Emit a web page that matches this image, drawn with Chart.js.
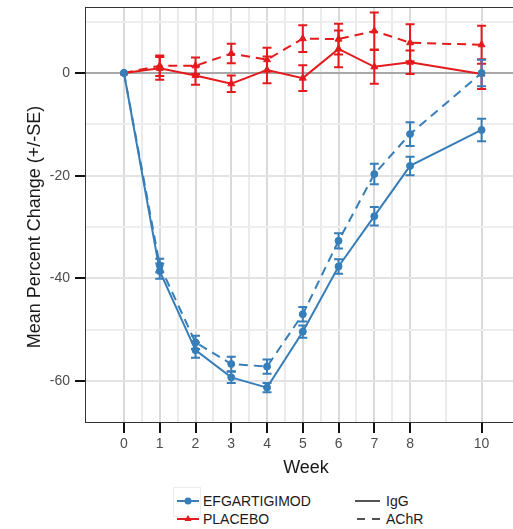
<!DOCTYPE html>
<html>
<head>
<meta charset="utf-8">
<script src="https://cdn.jsdelivr.net/npm/chart.js@4.4.1/dist/chart.umd.min.js"></script>
<style>
  html, body { margin: 0; padding: 0; background: #fff; overflow: hidden; }
  #wrap { position: relative; width: 513px; height: 529px; overflow: hidden; }
  #chart { position: absolute; left: 0; top: 0; }
  .key { position: absolute; }
  .lbl { position: absolute; font: 14px "Liberation Sans", Arial, sans-serif; color: #1a1a1a; line-height: 16px; white-space: nowrap; }
</style>
</head>
<body>
<div id="wrap">
  <canvas id="chart" width="540" height="480"></canvas>

  <div class="key" style="left:173px;top:487px;width:28px;height:30px;border:1px solid #ececec;box-sizing:border-box;"></div>
  <svg class="key" style="left:175px;top:493px" width="26" height="16">
    <line x1="2" y1="8" x2="24" y2="8" stroke="#377eb8" stroke-width="2"/>
    <circle cx="13" cy="8" r="3.5" fill="#377eb8"/>
  </svg>
  <span class="lbl" style="left:203px;top:493px">EFGARTIGIMOD</span>
  <svg class="key" style="left:175px;top:511px" width="26" height="16">
    <line x1="2" y1="8" x2="24" y2="8" stroke="#e41a1c" stroke-width="2"/>
    <polygon points="13,4 16.5,10 9.5,10" fill="#e41a1c"/>
  </svg>
  <span class="lbl" style="left:203px;top:511px">PLACEBO</span>

  <svg class="key" style="left:353px;top:493px" width="30" height="16">
    <line x1="2" y1="8" x2="27" y2="8" stroke="#1a1a1a" stroke-width="1.5"/>
  </svg>
  <span class="lbl" style="left:386px;top:493px">IgG</span>
  <svg class="key" style="left:353px;top:511px" width="30" height="16">
    <line x1="4" y1="8" x2="27" y2="8" stroke="#1a1a1a" stroke-width="1.5" stroke-dasharray="8,7"/>
  </svg>
  <span class="lbl" style="left:386px;top:511px">AChR</span>
</div>

<script>
// weeks on the x axis
const weeks = [0, 1, 2, 3, 4, 5, 6, 7, 8, 10];
const weekLabels = [0, 1, 2, 3, 4, 5, 6, 7, 8, 10];
const yLabels = [0, -20, -40, -60];

// efgartigimod
const efgIgg = [0, -38.6, -54.0, -59.3, -61.3, -50.4, -37.7, -27.9, -18.1, -11.1];
const efgIggSe = [0, 1.5, 1.5, 1.1, 0.9, 1.2, 1.4, 1.8, 1.8, 2.2];
const efgAchr = [0, -37.5, -52.5, -56.7, -57.2, -47.0, -32.7, -19.7, -11.9, 0.0];
const efgAchrSe = [0, 1.3, 1.3, 1.4, 1.4, 1.4, 1.5, 2.0, 2.3, 2.6];

// placebo
const plcIgg = [0, 0.9, -0.5, -2.1, 0.6, -1.0, 4.7, 1.2, 2.1, -0.2];
const plcIggSe = [0, 2.2, 1.8, 1.6, 2.6, 2.5, 3.6, 3.3, 2.3, 2.9];
const plcAchr = [0, 1.4, 1.4, 3.8, 2.6, 6.7, 6.6, 8.2, 5.9, 5.5];
const plcAchrSe = [0, 2.0, 1.6, 1.9, 2.3, 2.6, 3.0, 3.6, 3.6, 3.7];

const BLUE = '#377eb8';
const RED = '#e41a1c';
const FONT = '"Liberation Sans", Arial, sans-serif';

Chart.defaults.font.family = FONT;

function pts(vals) {
  return weeks.map((w, i) => ({ x: w, y: vals[i] }));
}

// minor breaks sit halfway between the labelled weeks
const xGrid = [];
weekLabels.forEach((w, i) => {
  xGrid.push(w);
  if (i < weekLabels.length - 1) xGrid.push((w + weekLabels[i + 1]) / 2);
});
const yGrid = [-60, -50, -40, -30, -20, -10, 0, 10];

function series(label, vals, se, color, dashed, style) {
  return {
    label: label,
    data: pts(vals),
    se: se,
    borderColor: color,
    backgroundColor: color,
    borderWidth: 2,
    borderDash: dashed ? [9, 6] : [],
    pointStyle: style,
    pointRadius: style === 'triangle' ? 4 : 3.5,
    pointBorderWidth: 1,
    tension: 0
  };
}

// error bars (+/- SE)
const errorBars = {
  id: 'errorBars',
  afterDatasetDraw(chart, args) {
    const ds = chart.data.datasets[args.index];
    if (!ds.se) return;
    const { ctx, chartArea } = chart;
    const x = chart.scales.x, y = chart.scales.y;
    ctx.save();
    ctx.beginPath();
    ctx.rect(chartArea.left, chartArea.top, chartArea.width, chartArea.height);
    ctx.clip();
    ctx.strokeStyle = ds.borderColor;
    ctx.lineWidth = 2;
    ctx.setLineDash([]);
    ds.data.forEach((p, i) => {
      const s = ds.se[i];
      if (!s) return;
      const px = x.getPixelForValue(p.x);
      const top = y.getPixelForValue(p.y + s);
      const bot = y.getPixelForValue(p.y - s);
      ctx.beginPath();
      ctx.moveTo(px, top); ctx.lineTo(px, bot);
      ctx.moveTo(px - 4.5, top); ctx.lineTo(px + 4.5, top);
      ctx.moveTo(px - 4.5, bot); ctx.lineTo(px + 4.5, bot);
      ctx.stroke();
    });
    ctx.restore();
  }
};

// top edge of the panel and the y title
const frame = {
  id: 'frame',
  afterDraw(chart) {
    const { ctx, chartArea } = chart;
    ctx.save();
    ctx.strokeStyle = '#333';
    ctx.lineWidth = 1;
    ctx.beginPath();
    ctx.moveTo(chartArea.left, chartArea.top + 0.5);
    ctx.lineTo(chartArea.right, chartArea.top + 0.5);
    ctx.stroke();
    ctx.translate(35, 227);
    ctx.rotate(-Math.PI / 2);
    ctx.font = '18px ' + FONT;
    ctx.fillStyle = '#1a1a1a';
    ctx.textAlign = 'center';
    ctx.textBaseline = 'middle';
    ctx.fillText('Mean Percent Change (+/-SE)', 0, 0);
    ctx.restore();
  }
};

const ctx = document.getElementById('chart').getContext('2d');

const chart = new Chart(ctx, {
  type: 'line',
  data: {
    datasets: [
      series('EFGARTIGIMOD IgG', efgIgg, efgIggSe, BLUE, false, 'circle'),
      series('EFGARTIGIMOD AChR', efgAchr, efgAchrSe, BLUE, true, 'circle'),
      series('PLACEBO IgG', plcIgg, plcIggSe, RED, false, 'triangle'),
      series('PLACEBO AChR', plcAchr, plcAchrSe, RED, true, 'triangle')
    ]
  },
  options: {
    responsive: false,
    animation: false,
    layout: { padding: { left: 0, top: 7, right: 13, bottom: 0 } },
    plugins: {
      legend: { display: false },
      tooltip: { enabled: false }
    },
    scales: {
      x: {
        type: 'linear',
        min: -1.09,
        max: 11.27,
        afterBuildTicks: (scale) => { scale.ticks = xGrid.map(v => ({ value: v })); },
        afterFit: (scale) => { scale.height = 58; },
        ticks: {
          autoSkip: false,
          maxRotation: 0,
          padding: 3,
          color: '#4d4d4d',
          font: { size: 14 },
          callback: (v) => weekLabels.includes(v) ? String(v) : ''
        },
        grid: {
          color: (c) => weekLabels.includes(c.tick.value) ? '#dadada' : '#ebebeb',
          lineWidth: 2,
          tickLength: 11,
          tickWidth: 2,
          tickColor: (c) => weekLabels.includes(c.tick.value) ? '#111' : 'rgba(0,0,0,0)'
        },
        border: { color: '#333', width: 1 },
        title: {
          display: true,
          text: 'Week',
          color: '#1a1a1a',
          font: { size: 18 },
          padding: { top: 4, bottom: 1 }
        }
      },
      y: {
        min: -68,
        max: 12.86,
        afterBuildTicks: (scale) => { scale.ticks = yGrid.map(v => ({ value: v })); },
        afterFit: (scale) => {
          scale.width = 85;
          scale.paddingTop = 0;
          scale.paddingBottom = 0;
        },
        ticks: {
          autoSkip: false,
          padding: 5,
          color: '#4d4d4d',
          font: { size: 14, lineHeight: 1 },
          callback: (v) => yLabels.includes(v) ? String(v) : ''
        },
        grid: {
          color: (c) => c.tick.value === 0 ? '#a8a8a8' : (yLabels.includes(c.tick.value) ? '#e3e3e3' : '#eeeeee'),
          lineWidth: 2,
          tickLength: 10,
          tickWidth: 2,
          tickColor: (c) => yLabels.includes(c.tick.value) ? '#111' : 'rgba(0,0,0,0)'
        },
        border: { color: '#333', width: 1 }
      }
    }
  },
  plugins: [errorBars, frame]
});
</script>
</body>
</html>
